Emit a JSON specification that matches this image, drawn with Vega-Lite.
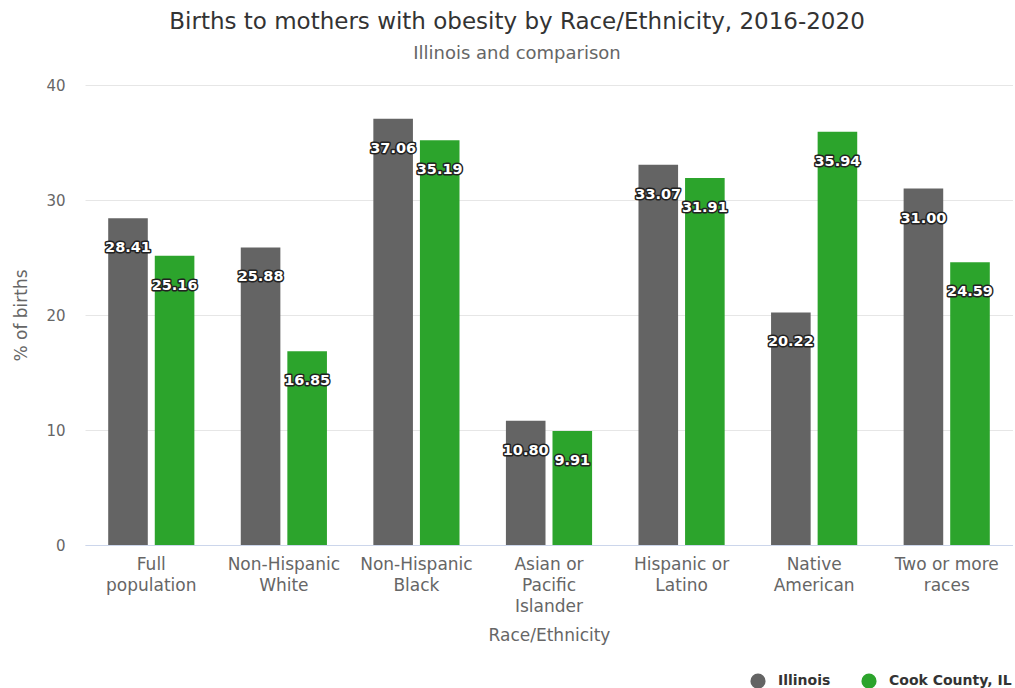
{
  "$schema": "https://vega.github.io/schema/vega-lite/v6.json",
  "width": 928,
  "height": 460,
  "padding": {"left": 12, "top": 11, "right": 0, "bottom": 0},
  "background": "white",
  "title": {
    "text": "Births to mothers with obesity by Race/Ethnicity, 2016-2020",
    "subtitle": "Illinois and comparison",
    "font": "DejaVu Sans",
    "fontSize": 23,
    "fontWeight": "normal",
    "color": "#333333",
    "subtitleFont": "DejaVu Sans",
    "subtitleFontSize": 18,
    "subtitleColor": "#666666",
    "subtitlePadding": 11,
    "anchor": "middle",
    "offset": 15,
    "dx": -32
  },
  "data": {
    "values": [
      {"group": "Full population", "series": "Illinois", "pct": 28.41},
      {"group": "Full population", "series": "Cook County, IL", "pct": 25.16},
      {"group": "Non-Hispanic White", "series": "Illinois", "pct": 25.88},
      {"group": "Non-Hispanic White", "series": "Cook County, IL", "pct": 16.85},
      {"group": "Non-Hispanic Black", "series": "Illinois", "pct": 37.06},
      {"group": "Non-Hispanic Black", "series": "Cook County, IL", "pct": 35.19},
      {"group": "Asian or Pacific Islander", "series": "Illinois", "pct": 10.80},
      {"group": "Asian or Pacific Islander", "series": "Cook County, IL", "pct": 9.91},
      {"group": "Hispanic or Latino", "series": "Illinois", "pct": 33.07},
      {"group": "Hispanic or Latino", "series": "Cook County, IL", "pct": 31.91},
      {"group": "Native American", "series": "Illinois", "pct": 20.22},
      {"group": "Native American", "series": "Cook County, IL", "pct": 35.94},
      {"group": "Two or more races", "series": "Illinois", "pct": 31.00},
      {"group": "Two or more races", "series": "Cook County, IL", "pct": 24.59}
    ]
  },
  "encoding": {
    "x": {
      "field": "group",
      "type": "nominal",
      "sort": ["Full population", "Non-Hispanic White", "Non-Hispanic Black", "Asian or Pacific Islander", "Hispanic or Latino", "Native American", "Two or more races"],
      "scale": {"paddingInner": 0.35, "paddingOuter": 0.175},
      "title": "Race/Ethnicity",
      "axis": {
        "labelAngle": 0,
        "labelExpr": "datum.value == 'Asian or Pacific Islander' ? ['Asian or', 'Pacific', 'Islander'] : datum.value == 'Hispanic or Latino' ? ['Hispanic or', 'Latino'] : datum.value == 'Two or more races' ? ['Two or more', 'races'] : split(datum.value, ' ')",
        "labelFontSize": 17,
        "labelLineHeight": 21,
        "labelColor": "#666666",
        "labelPadding": 11,
        "ticks": false,
        "domainColor": "#ccd6eb",
        "titleFontSize": 17,
        "titleFontWeight": "normal",
        "titleColor": "#666666",
        "titlePadding": 13
      }
    },
    "xOffset": {
      "field": "series",
      "type": "nominal",
      "sort": ["Illinois", "Cook County, IL"],
      "scale": {"paddingInner": 0.15}
    },
    "y": {
      "field": "pct",
      "type": "quantitative",
      "scale": {"domain": [0, 40]},
      "title": "% of births",
      "axis": {
        "values": [0, 10, 20, 30, 40],
        "grid": true,
        "gridColor": "#e6e6e6",
        "domain": false,
        "ticks": false,
        "labelFontSize": 15,
        "labelColor": "#666666",
        "labelPadding": 20,
        "titleFontSize": 17,
        "titleFontWeight": "normal",
        "titleColor": "#666666",
        "titlePadding": 15
      }
    }
  },
  "layer": [
    {
      "mark": {"type": "bar"},
      "encoding": {
        "color": {
          "field": "series",
          "type": "nominal",
          "scale": {"domain": ["Illinois", "Cook County, IL"], "range": ["#646464", "#2ca42c"]},
          "legend": {
            "orient": "none",
            "legendX": 665,
            "legendY": 588,
            "direction": "horizontal",
            "title": null,
            "symbolType": "circle",
            "symbolSize": 230,
            "symbolStrokeWidth": 0,
            "labelFontSize": 14,
            "labelFontWeight": "bold",
            "labelColor": "#333333",
            "labelOffset": 12,
            "columnPadding": 30
          }
        }
      }
    },
    {
      "mark": {"type": "text", "dy": 30, "fontWeight": "bold", "fontSize": 14.5, "fill": "#222222", "stroke": "#222222", "strokeWidth": 3, "strokeJoin": "round"},
      "encoding": {"text": {"field": "pct", "type": "quantitative", "format": ".2f"}}
    },
    {
      "mark": {"type": "text", "dy": 30, "fontWeight": "bold", "fontSize": 14.5, "fill": "white"},
      "encoding": {"text": {"field": "pct", "type": "quantitative", "format": ".2f"}}
    }
  ],
  "config": {"view": {"stroke": null}, "font": "DejaVu Sans"}
}
